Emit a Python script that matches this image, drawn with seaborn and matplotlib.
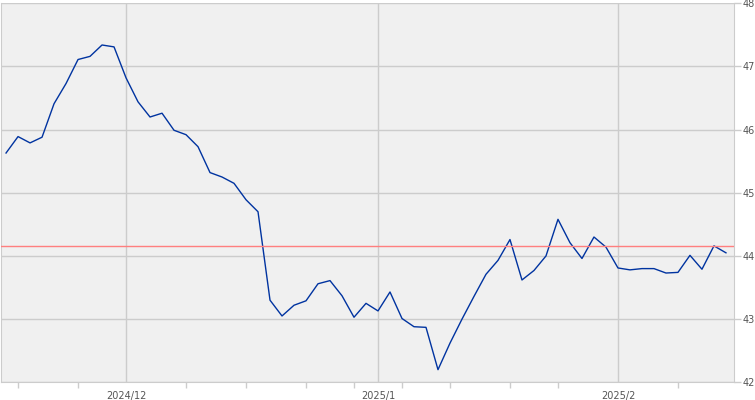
#!/usr/bin/env python
"""Daily price line with a reference level, Nov 2024 - Feb 2025."""
import matplotlib
matplotlib.use('Agg')
import matplotlib.pyplot as plt
import seaborn as sb
import pandas as pd
import numpy as np

# trading days (US market holidays removed)
holidays = ['2024-11-28', '2024-12-25', '2025-01-01', '2025-01-09', '2025-01-20']
dates = pd.bdate_range('2024-11-15', '2025-02-14', freq='C', holidays=holidays)

# closing values
values = [45.63, 45.89, 45.79, 45.88, 46.41, 46.73, 47.11, 47.16, 47.34, 47.31,
          46.82, 46.44, 46.20, 46.26, 45.99, 45.92, 45.73, 45.32, 45.25, 45.15,
          44.89, 44.70, 43.30, 43.05, 43.22, 43.29, 43.56, 43.61, 43.37, 43.03,
          43.25, 43.13, 43.43, 43.01, 42.88, 42.87, 42.20, 42.62, 43.00, 43.36,
          43.71, 43.93, 44.26, 43.62, 43.77, 44.00, 44.58, 44.21, 43.96, 44.30,
          44.14, 43.81, 43.78, 43.80, 43.80, 43.73, 43.74, 44.01, 43.79, 44.16,
          44.05]

reference_level = 44.15
y_ticks = [42, 43, 44, 45, 46, 47, 48]

df = pd.DataFrame({'date': dates, 'value': values})
df['day'] = np.arange(len(df))

# month labels on first trading day of month, small ticks on first day of week
month_start = df.date.dt.month != df.date.shift().dt.month
month_start.iloc[0] = False
week_start = df.date.dt.isocalendar().week != df.date.shift().dt.isocalendar().week
week_start.iloc[0] = False
month_days = df.day[month_start].tolist()
month_labels = df.date[month_start].apply(lambda d: f'{d.year}/{d.month}').tolist()
week_days = [d for d in df.day[week_start] if d not in month_days]

grid_color = '#cccccc'
text_color = '#555555'

fig = plt.figure(figsize=(7.55, 4.0), dpi=100)
ax = fig.add_axes([1 / 755, 17.7 / 400, 733 / 755, 379 / 400])
ax.set_facecolor('#f0f0f0')

sb.lineplot(x='day', y='value', data=df, ax=ax, color='#0033a0', lw=1.0)
ax.axhline(reference_level, color='#ff7f7f', lw=1.0, zorder=3)

ax.set_xlim(-0.42, 60.67)
ax.set_ylim(42, 48)

ax.set_xticks(month_days)
ax.set_xticklabels(month_labels)
ax.set_xticks(week_days, minor=True)
ax.tick_params(axis='x', which='major', length=0, pad=6,
               labelsize=7, labelcolor=text_color)
ax.tick_params(axis='x', which='minor', length=4, width=1, color=grid_color)

ax.yaxis.tick_right()
ax.set_yticks(y_ticks)
ax.tick_params(axis='y', length=5, width=1, color=grid_color, pad=1,
               labelsize=7, labelcolor=text_color)

ax.grid(True, which='major', color=grid_color, lw=1.0)
ax.set_axisbelow(True)
for side in ['left', 'right', 'bottom']:
    ax.spines[side].set_color(grid_color)
ax.spines['top'].set_visible(False)
ax.set_xlabel('')
ax.set_ylabel('')

plt.savefig('out.png', dpi=100)
